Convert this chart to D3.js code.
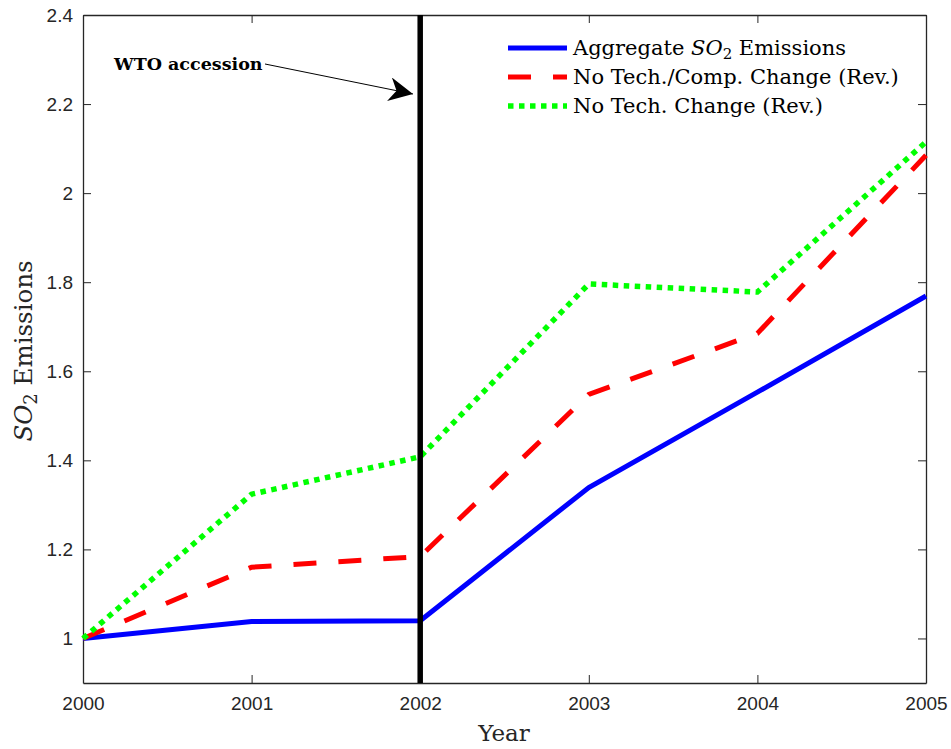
<!DOCTYPE html>
<html><head><meta charset="utf-8">
<script src="https://cdn.jsdelivr.net/npm/d3@7"></script>
<style>body{margin:0;background:#fff}</style>
</head><body>
<svg id="c" width="951" height="749"></svg>
<script>
const years = [2000, 2001, 2002, 2003, 2004, 2005];
const aggregate = [1.0, 1.038, 1.04, 1.339, 1.553, 1.769];
const noTechComp = [1.0, 1.16, 1.184, 1.548, 1.685, 2.085];
const noTech = [1.0, 1.324, 1.408, 1.796, 1.778, 2.115];
const yTicks = [1, 1.2, 1.4, 1.6, 1.8, 2, 2.2, 2.4];
const seriesNames = ["Aggregate", "No Tech./Comp. Change (Rev.)", "No Tech. Change (Rev.)"];
const wtoYear = 2002;

const svg = d3.select("#c");
const L = 83, R = 926, T = 15, B = 683;
const x = d3.scaleLinear().domain([2000, 2005]).range([L, R]);
const y = d3.scaleLinear().domain([0.9, 2.4]).range([B, T]);
const axisColor = "#262626";
const tickFont = "Liberation Sans, Arial, sans-serif";
const serif = "DejaVu Serif, serif";

// axes
const gx = svg.append("g").attr("transform", `translate(0,${B})`)
  .call(d3.axisBottom(x).tickValues(years).tickFormat(d3.format("d")).tickSizeInner(-8).tickSizeOuter(0).tickPadding(14));
const gy = svg.append("g").attr("transform", `translate(${L},0)`)
  .call(d3.axisLeft(y).tickValues(yTicks).tickFormat(d => d3.format("")(d)).tickSizeInner(-8).tickSizeOuter(0).tickPadding(10));
const gxt = svg.append("g").attr("transform", `translate(0,${T})`)
  .call(d3.axisTop(x).tickValues(years).tickFormat("").tickSizeInner(-8).tickSizeOuter(0));
const gyr = svg.append("g").attr("transform", `translate(${R},0)`)
  .call(d3.axisRight(y).tickValues(yTicks).tickFormat("").tickSizeInner(-8).tickSizeOuter(0));
[gx, gy, gxt, gyr].forEach(g => {
  g.selectAll("path.domain").attr("stroke", axisColor).attr("stroke-width", 1.3);
  g.selectAll(".tick line").attr("stroke", axisColor).attr("stroke-width", 1);
  g.selectAll("text").attr("fill", axisColor).style("font-family", tickFont).style("font-size", "19px");
});

// lines
const line = d3.line().x((d, i) => x(years[i])).y(d => y(d));
svg.append("path").datum(aggregate).attr("d", line)
  .attr("fill", "none").attr("stroke", "#0000ff").attr("stroke-width", 5);
svg.append("path").datum(noTechComp).attr("d", line)
  .attr("fill", "none").attr("stroke", "#ff0000").attr("stroke-width", 5).attr("stroke-dasharray", "23,22");
svg.append("path").datum(noTech).attr("d", line)
  .attr("fill", "none").attr("stroke", "#00ff00").attr("stroke-width", 5.5).attr("stroke-dasharray", "5.5,5.5");

// WTO vertical line
svg.append("line").attr("x1", x(wtoYear)).attr("x2", x(wtoYear)).attr("y1", T).attr("y2", B)
  .attr("stroke", "#000").attr("stroke-width", 5.5);

// annotation
svg.append("text").attr("x", 114).attr("y", 70).text("WTO accession")
  .style("font-family", serif).style("font-weight", "bold").style("font-size", "17.5px").attr("fill", "#000");
svg.append("defs").append("marker").attr("id", "ah").attr("viewBox", "0 0 10 10")
  .attr("refX", 10).attr("refY", 5).attr("markerWidth", 24).attr("markerHeight", 24).attr("markerUnits", "userSpaceOnUse")
  .attr("orient", "auto").append("path").attr("d", "M0,0 L10,5 L0,10 L3,5 Z").attr("fill", "#000");
svg.append("line").attr("x1", 265).attr("y1", 64).attr("x2", 413).attr("y2", 94)
  .attr("stroke", "#000").attr("stroke-width", 1).attr("marker-end", "url(#ah)");

// legend
const lg = svg.append("g");
const styles = [
  {c: "#0000ff", d: null, w: 5},
  {c: "#ff0000", d: "23,22", w: 5},
  {c: "#00ff00", d: "5.5,5.5", w: 5.5}
];
const rowsY = [48, 77, 106];
seriesNames.forEach((nm, i) => {
  lg.append("line").attr("x1", 508).attr("x2", 567).attr("y1", rowsY[i]).attr("y2", rowsY[i])
    .attr("stroke", styles[i].c).attr("stroke-width", styles[i].w).attr("stroke-dasharray", styles[i].d);
  const t = lg.append("text").attr("x", 573).attr("y", rowsY[i] + 7)
    .style("font-family", serif).style("font-size", "21px").attr("fill", "#000");
  if (i === 0) {
    t.append("tspan").text(nm + " ");
    t.append("tspan").style("font-style", "italic").text("SO");
    t.append("tspan").attr("dy", 4).style("font-size", "15px").text("2");
    t.append("tspan").attr("dy", -4).text(" Emissions");
  } else {
    t.text(nm);
  }
});

// axis titles
svg.append("text").attr("x", 504).attr("y", 741).attr("text-anchor", "middle")
  .style("font-family", serif).style("font-size", "23px").attr("fill", "#262626").text("Year");
const yl = svg.append("text").attr("transform", "translate(32,351) rotate(-90)").attr("text-anchor", "middle")
  .style("font-family", serif).style("font-size", "24.5px").attr("fill", "#262626");
yl.append("tspan").style("font-style", "italic").text("SO");
yl.append("tspan").attr("dy", 5).style("font-size", "18px").text("2");
yl.append("tspan").attr("dy", -5).text(" Emissions");
</script>
</body></html>
